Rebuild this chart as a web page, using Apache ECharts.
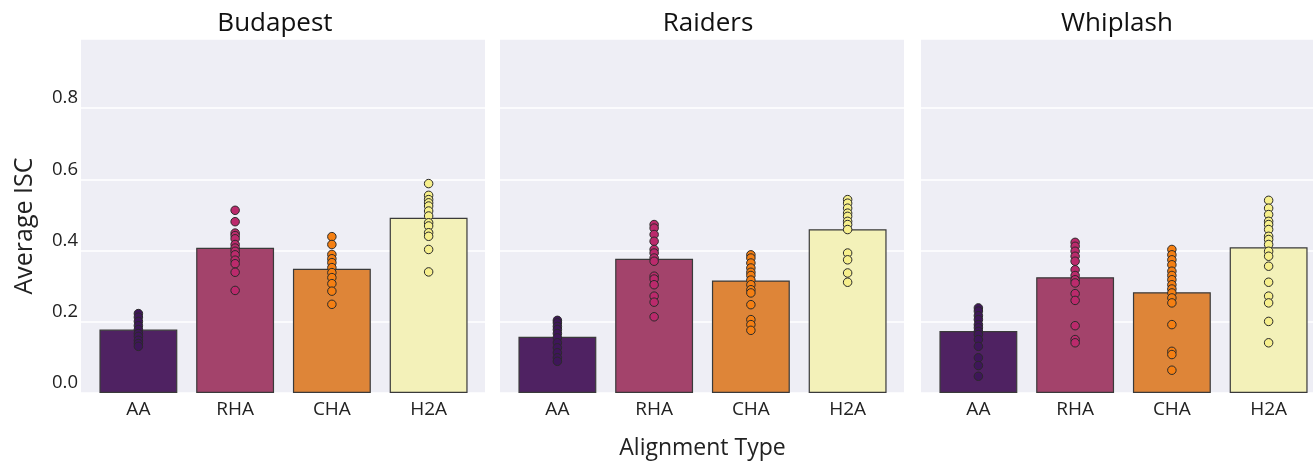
<!DOCTYPE html>
<html>
<head>
<meta charset="utf-8">
<script src="https://cdn.jsdelivr.net/npm/echarts@6/dist/echarts.min.js"></script>
<style>
html,body{margin:0;padding:0;background:#fff;}
#chart{width:1313px;height:463px;}
</style>
</head>
<body>
<div id="chart"></div>
<script>
// ---- data ----
var categories = ['AA', 'RHA', 'CHA', 'H2A'];
var panelNames = ['Budapest', 'Raiders', 'Whiplash'];
var yTicks = [0.0, 0.2, 0.4, 0.6, 0.8];

var budapestMeans = [0.178, 0.408, 0.349, 0.492];
var raidersMeans  = [0.158, 0.377, 0.316, 0.460];
var whiplashMeans = [0.174, 0.325, 0.283, 0.409];

var budapestAA  = [0.223, 0.213, 0.201, 0.189, 0.178, 0.167, 0.159, 0.148, 0.139, 0.131];
var budapestRHA = [0.513, 0.481, 0.449, 0.442, 0.433, 0.417, 0.407, 0.398, 0.388, 0.373, 0.363, 0.339, 0.288];
var budapestCHA = [0.439, 0.417, 0.389, 0.377, 0.366, 0.352, 0.338, 0.324, 0.307, 0.286, 0.249];
var budapestH2A = [0.588, 0.555, 0.543, 0.534, 0.525, 0.511, 0.497, 0.478, 0.469, 0.450, 0.440, 0.403, 0.340];

var raidersAA  = [0.204, 0.197, 0.187, 0.178, 0.167, 0.155, 0.141, 0.127, 0.113, 0.099, 0.089];
var raidersRHA = [0.473, 0.463, 0.445, 0.426, 0.403, 0.393, 0.379, 0.370, 0.328, 0.320, 0.304, 0.272, 0.255, 0.214];
var raidersCHA = [0.388, 0.379, 0.365, 0.351, 0.339, 0.330, 0.317, 0.304, 0.290, 0.281, 0.248, 0.206, 0.192, 0.176];
var raidersH2A = [0.543, 0.533, 0.519, 0.505, 0.496, 0.482, 0.473, 0.459, 0.393, 0.374, 0.337, 0.311];

var whiplashAA  = [0.239, 0.230, 0.217, 0.206, 0.192, 0.183, 0.173, 0.164, 0.150, 0.131, 0.099, 0.077, 0.047];
var whiplashRHA = [0.423, 0.412, 0.398, 0.384, 0.370, 0.346, 0.330, 0.318, 0.309, 0.279, 0.260, 0.189, 0.150, 0.141];
var whiplashCHA = [0.403, 0.388, 0.374, 0.360, 0.342, 0.330, 0.318, 0.304, 0.292, 0.281, 0.267, 0.253, 0.192, 0.117, 0.108, 0.064];
var whiplashH2A = [0.541, 0.519, 0.501, 0.482, 0.473, 0.459, 0.440, 0.431, 0.417, 0.398, 0.384, 0.356, 0.311, 0.272, 0.253, 0.201, 0.141];

var barColors = ['#4f2262', '#a3436b', '#de8538', '#f3f1b9'];
var dotColors = ['#3e1659', '#bb2a6c', '#f57f12', '#f6ef8c'];

// ---- build ----
var means = [budapestMeans, raidersMeans, whiplashMeans];
var dots = [
  [budapestAA, budapestRHA, budapestCHA, budapestH2A],
  [raidersAA, raidersRHA, raidersCHA, raidersH2A],
  [whiplashAA, whiplashRHA, whiplashCHA, whiplashH2A]
];
var gridLefts = [81, 500, 921];
var gridWidth = 404;
var innerPad = 9, innerWidth = 387;
var titleCenters = [275, 708, 1117];
var TOP = 39, BOTTOM = 70, YMAX = 0.994;
var FONT = 'Open Sans';

var grids = [], xAxes = [], yAxes = [], series = [], graphics = [];
// background panels (grid 0..2) with y gridlines and tick labels
for (var p = 0; p < 3; p++) {
  grids.push({
    left: gridLefts[p], width: gridWidth, top: TOP, bottom: BOTTOM,
    outerBoundsMode: 'none', containLabel: false,
    show: true, backgroundColor: '#eeeef5', borderWidth: 0
  });
  xAxes.push({type: 'value', gridIndex: p, min: 0, max: 1, show: false});
  yAxes.push({
    type: 'value', gridIndex: p, min: 0, max: YMAX, interval: 0.2,
    axisLine: {show: false}, axisTick: {show: false},
    splitLine: {show: true, lineStyle: {color: '#ffffff', width: 1.5}},
    axisLabel: {
      show: p === 0, fontFamily: FONT, fontSize: 18.5, color: '#222', margin: 3,
      verticalAlign: 'bottom', lineHeight: 20, showMaxLabel: false,
      formatter: function (v) { return v < 0.9 ? v.toFixed(1) : ''; }
    }
  });
}
// data panels (grid 3..5)
for (var p = 0; p < 3; p++) {
  var g = 3 + p;
  grids.push({
    left: gridLefts[p] + innerPad, width: innerWidth, top: TOP, bottom: BOTTOM,
    outerBoundsMode: 'none', containLabel: false,
    show: false
  });
  xAxes.push({
    type: 'category', gridIndex: g, data: categories,
    axisLine: {show: false}, axisTick: {show: false},
    axisLabel: {fontFamily: FONT, fontSize: 19, color: '#222', margin: 7},
    name: p === 1 ? 'Alignment Type' : '',
    nameLocation: 'middle', nameGap: 44,
    nameTextStyle: {fontFamily: FONT, fontSize: 23, color: '#222'}
  });
  yAxes.push({
    type: 'value', gridIndex: g, min: 0, max: YMAX,
    axisLine: {show: false}, axisTick: {show: false},
    splitLine: {show: false}, axisLabel: {show: false}
  });
  series.push({
    type: 'bar', xAxisIndex: g, yAxisIndex: g, barWidth: '80.5%',
    data: means[p].map(function (v, i) {
      return {value: v, itemStyle: {color: barColors[i], borderColor: '#3a3a3a', borderWidth: 1.2}};
    }),
    z: 2, silent: true
  });
  for (var c = 0; c < 4; c++) {
    series.push({
      type: 'scatter', xAxisIndex: g, yAxisIndex: g, symbolSize: 8.5,
      data: dots[p][c].map(function (v) { return [categories[c], v]; }),
      itemStyle: {color: dotColors[c], borderColor: '#2a2a2a', borderWidth: 1, opacity: 1},
      z: 3, silent: true
    });
  }
  graphics.push({
    type: 'text', x: titleCenters[p], y: 24,
    style: {text: panelNames[p], fontFamily: FONT, fontSize: 26, fill: '#111',
            textAlign: 'center', textVerticalAlign: 'middle'}
  });
}
graphics.push({
  type: 'text', x: 25, y: 226, rotation: Math.PI / 2,
  style: {text: 'Average ISC', fontFamily: FONT, fontSize: 25, fill: '#222',
          textAlign: 'center', textVerticalAlign: 'middle'}
});

var chart = echarts.init(document.getElementById('chart'));
chart.setOption({
  animation: false,
  backgroundColor: '#ffffff',
  grid: grids, xAxis: xAxes, yAxis: yAxes, series: series, graphic: graphics
});
</script>
</body>
</html>
